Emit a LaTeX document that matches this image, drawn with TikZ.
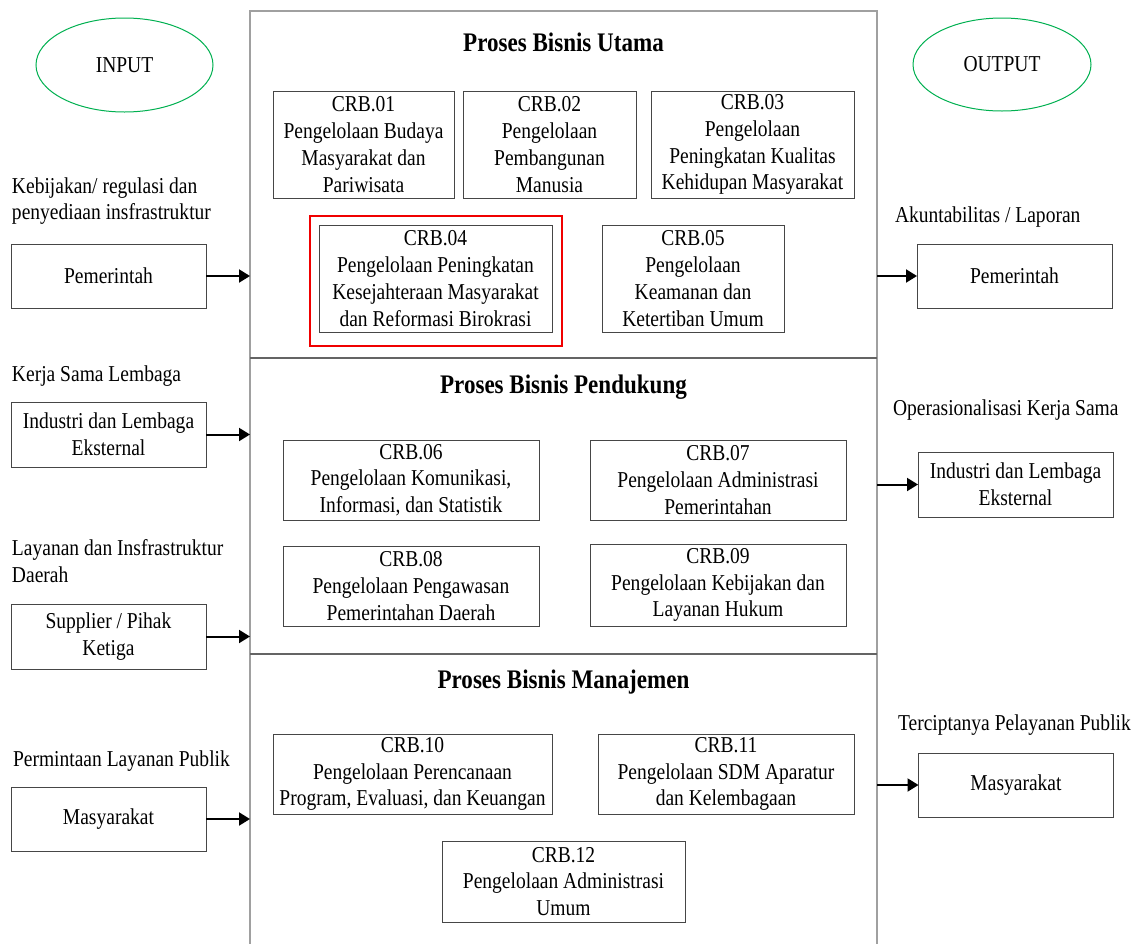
\documentclass[tikz,border=0pt]{standalone}
\usepackage{fontspec}
\setmainfont{Liberation Serif}[FakeStretch=0.86]
\usetikzlibrary{shapes.geometric,arrows.meta}
\definecolor{boxgray}{RGB}{70,70,70}
\definecolor{framegray}{RGB}{160,160,160}
\definecolor{divgray}{RGB}{100,100,100}
\definecolor{ovalgreen}{RGB}{0,176,80}
\definecolor{hired}{RGB}{240,0,0}
\begin{document}
\begin{tikzpicture}[x=1pt,y=-1pt,
  every node/.style={font=\fontsize{22.7}{26.8}\selectfont, inner sep=0pt, outer sep=0pt},
  ttl/.style={font=\fontsize{26.8}{30}\selectfont\bfseries},
  crb/.style={draw=boxgray, line width=1pt, align=center},
  ext/.style={draw=boxgray, line width=1pt, align=center, minimum width=195pt},
  oval/.style={ellipse, draw=ovalgreen, line width=1pt},
  lbl/.style={anchor=west, align=left},
  sect/.style={draw=framegray, line width=2pt, minimum width=627pt},
  arr/.style={line width=2pt, -{Triangle[length=11pt,width=13pt]}},
  redframe/.style={draw=hired, line width=1.6pt}
]
\useasboundingbox (0,0) rectangle (1135,943);
\clip (0,0) rectangle (1135,943);

% main frame sections
\node[sect, minimum height=347pt] (sec1) at (563.5,184.5) {};
\node[sect, minimum height=296pt] (sec2) at (563.5,506) {};
\node[sect, minimum height=320pt] (sec3) at (563.5,814) {};
\draw[divgray, line width=2pt] (sec1.south west) -- (sec1.south east);
\draw[divgray, line width=2pt] (sec2.south west) -- (sec2.south east);

% titles
\node[ttl] (t1) at (563.5,42) {Proses Bisnis Utama};
\node[ttl] (t2) at (563.5,387) {Proses Bisnis Pendukung};
\node[ttl] (t3) at (563.5,682) {Proses Bisnis Manajemen};

% ellipses
\node[oval, minimum width=177pt, minimum height=94pt] (inp) at (124.5,65) {INPUT};
\node[oval, minimum width=178pt, minimum height=93pt] (outp) at (1002,64.5) {OUTPUT};

% CRB boxes
\node[crb, minimum width=181pt, minimum height=107pt] (c01) at (363.5,144.5) {CRB.01\\Pengelolaan Budaya\\Masyarakat dan\\Pariwisata};
\node[crb, minimum width=173pt, minimum height=107pt] (c02) at (549.5,144.5) {CRB.02\\Pengelolaan\\Pembangunan\\Manusia};
\node[crb, minimum width=203pt, minimum height=107pt] (c03) at (752.5,144.5) {CRB.03\\Pengelolaan\\Peningkatan Kualitas\\Kehidupan Masyarakat};
\node[redframe, minimum width=252pt, minimum height=130pt] (c04f) at (436,281) {};
\node[crb, minimum width=233pt, minimum height=107pt] (c04) at (435.5,278.5) {CRB.04\\Pengelolaan Peningkatan\\Kesejahteraan Masyarakat\\dan Reformasi Birokrasi};
\node[crb, minimum width=182pt, minimum height=107pt] (c05) at (693,278.5) {CRB.05\\Pengelolaan\\Keamanan dan\\Ketertiban Umum};

\node[crb, minimum width=256pt, minimum height=80pt] (c06) at (411,480) {CRB.06\\Pengelolaan Komunikasi,\\Informasi, dan Statistik};
\node[crb, minimum width=256pt, minimum height=80pt] (c07) at (718,480) {CRB.07\\Pengelolaan Administrasi\\Pemerintahan};
\node[crb, minimum width=256pt, minimum height=80pt] (c08) at (411,586) {CRB.08\\Pengelolaan Pengawasan\\Pemerintahan Daerah};
\node[crb, minimum width=256pt, minimum height=82pt] (c09) at (718,585) {CRB.09\\Pengelolaan Kebijakan dan\\Layanan Hukum};

\node[crb, minimum width=279pt, minimum height=80pt] (c10) at (412.5,774) {CRB.10\\Pengelolaan Perencanaan\\Program, Evaluasi, dan Keuangan};
\node[crb, minimum width=256pt, minimum height=80pt] (c11) at (726,774) {CRB.11\\Pengelolaan SDM Aparatur\\dan Kelembagaan};
\node[crb, minimum width=243pt, minimum height=81pt] (c12) at (563.5,881.5) {CRB.12\\Pengelolaan Administrasi\\Umum};

% input side
\node[lbl] (l1) at (12,201) {Kebijakan/ regulasi dan\\penyediaan insfrastruktur};
\node[ext, minimum height=64pt] (pemL) at (108.5,276) {Pemerintah};
\node[lbl] (l2) at (12,376) {Kerja Sama Lembaga};
\node[ext, minimum height=65pt] (indL) at (108.5,434.5) {Industri dan Lembaga\\Eksternal};
\node[lbl] (l3) at (12,561) {Layanan dan Insfrastruktur\\Daerah};
\node[ext, minimum height=65pt] (supL) at (108.5,636.5) {Supplier / Pihak\\Ketiga};
\node[lbl] (l4) at (13,761) {Permintaan Layanan Publik};
\node[ext, minimum height=64pt] (masL) at (108.5,819) {Masyarakat};

% output side
\node[lbl] (r1) at (895,217) {Akuntabilitas / Laporan};
\node[ext, minimum height=64pt] (pemR) at (1014.5,276) {Pemerintah};
\node[lbl] (r2) at (893,410) {Operasionalisasi Kerja Sama};
\node[ext, minimum height=65pt] (indR) at (1015.5,484.5) {Industri dan Lembaga\\Eksternal};
\node[lbl] (r3) at (898,725) {Terciptanya Pelayanan Publik};
\node[ext, minimum height=64pt] (masR) at (1016,785) {Masyarakat};

% arrows
\draw[arr] (pemL.east) -- (pemL.east -| sec1.west);
\draw[arr] (indL.east) -- (indL.east -| sec2.west);
\draw[arr] (supL.east) -- (supL.east -| sec2.west);
\draw[arr] (masL.east) -- (masL.east -| sec3.west);
\draw[arr] (pemR.west -| sec1.east) -- (pemR.west);
\draw[arr] (indR.west -| sec2.east) -- (indR.west);
\draw[arr] (masR.west -| sec3.east) -- (masR.west);
\end{tikzpicture}
\end{document}
